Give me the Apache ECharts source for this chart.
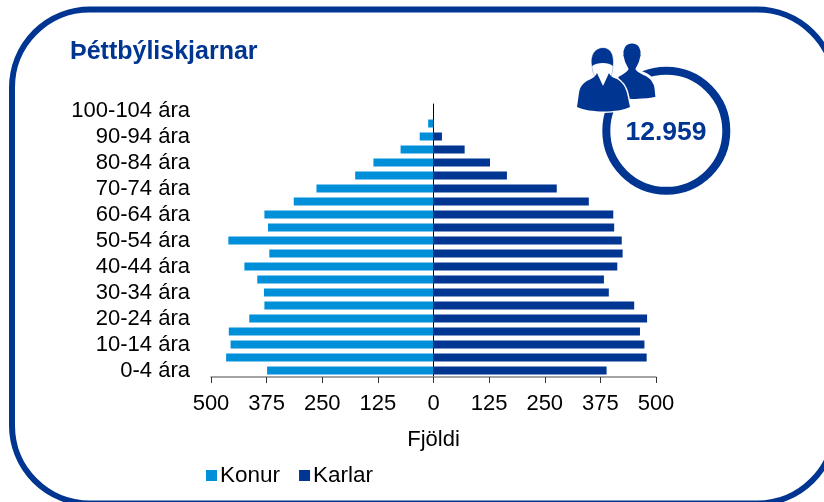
<!DOCTYPE html>
<html><head><meta charset="utf-8">
<style>html,body{margin:0;padding:0;background:#fff}#c{width:824px;height:502px}</style>
<script src="https://cdn.jsdelivr.net/npm/echarts@6/dist/echarts.min.js"></script>
</head><body><div id="c"></div>
<script>
const categories = ['0-4 ára','5-9 ára','10-14 ára','15-19 ára','20-24 ára','25-29 ára','30-34 ára','35-39 ára','40-44 ára','45-49 ára','50-54 ára','55-59 ára','60-64 ára','65-69 ára','70-74 ára','75-79 ára','80-84 ára','85-89 ára','90-94 ára','95-99 ára','100-104 ára'];
const women = [374,466,456,460,414,380,381,396,425,369,461,372,380,314,263,176,135,74,31,12,0];
const men = [389,479,474,464,480,451,394,383,413,425,423,406,404,349,277,165,127,70,19,0,0];
const xTicks = {min:-500,max:500,interval:125};
const titleText = 'Þéttbýliskjarnar';
const totalText = '12.959';
const BLUE = '#003591', LIGHT = '#0090da', FONT = '"Liberation Sans", Arial, sans-serif';
const chart = echarts.init(document.getElementById('c'), null, {renderer:'canvas'});
const backPerson = 'M632 42 C640 42 643 49 642 56 C641 62 639 66 637 69 C639 72 643 73 647 75 C652 78 655 82 656 88 L657 98 C645 101 625 101 617 99 L617 76 C621 74 625 72 627 69 C625 66 623 62 622 56 C621 49 624 42 632 42 Z';
const frontBody = 'M577 107 L579 93 C580 86 584 82 589 80 C593 78 596 76 597 73 L603 86 L609 73 C610 76 613 78 617 79 C622 82 625 86 627 93 L630 107 C618 113 590 113 577 107 Z';
const frontHair = 'M592 66 C590 54 596 48 603 48 C610 48 614 54 613 66 C609 62 597 62 592 66 Z';
const frontHalo = 'M592 64 C590 54 596 48 603 48 C610 48 614 54 613 64 C613 74 610 82 603 86 C596 82 592 74 592 64 Z';
echarts.graphic.registerShape('personBack', echarts.graphic.extendPath(backPerson, {}));
echarts.graphic.registerShape('personBody', echarts.graphic.extendPath(frontBody, {}));
echarts.graphic.registerShape('personHair', echarts.graphic.extendPath(frontHair, {}));
echarts.graphic.registerShape('personHalo', echarts.graphic.extendPath(frontHalo, {}));
chart.setOption({
  animation:false,
  textStyle:{fontFamily:FONT},
  grid:{left:211,right:168,top:104,bottom:125,containLabel:false,outerBoundsMode:'none'},
  legend:{left:201,top:459,itemWidth:11,itemHeight:11,itemGap:19,icon:'rect',
    textStyle:{fontSize:22.5,color:'#000',fontFamily:FONT,padding:[0,0,0,-2]},
    data:['Konur','Karlar']},
  xAxis:{type:'value',...xTicks,splitLine:{show:false},
    axisLine:{show:true,lineStyle:{color:'#868686',width:1.5}},
    axisTick:{show:true,length:6,lineStyle:{color:'#333',width:1}},
    axisLabel:{color:'#000',fontSize:22,fontFamily:FONT,margin:16,formatter:v=>String(Math.abs(v))},
    name:'Fjöldi',nameLocation:'middle',nameGap:52,
    nameTextStyle:{color:'#000',fontSize:22,fontFamily:FONT}},
  yAxis:[
    {type:'category',data:categories,position:'left',
      axisLine:{show:false,onZero:false},axisTick:{show:false},
      axisLabel:{interval:1,color:'#000',fontSize:22,fontFamily:FONT,margin:21}},
    {type:'category',data:categories,
      axisLine:{show:true,onZero:true,lineStyle:{color:'#000',width:1}},
      axisTick:{show:false},axisLabel:{show:false}}
  ],
  series:[
    {name:'Konur',type:'bar',stack:'p',barWidth:8,data:women.map(v=>-v),itemStyle:{color:LIGHT}},
    {name:'Karlar',type:'bar',stack:'p',barWidth:8,data:men,itemStyle:{color:BLUE}}
  ],
  graphic:[
    {type:'rect',z:0,silent:true,shape:{x:12,y:9.5,width:823,height:494,r:78},style:{fill:'none',stroke:BLUE,lineWidth:6}},
    {type:'text',z:10,style:{x:70,y:52,text:titleText,fill:BLUE,font:'bold 25px '+FONT,textVerticalAlign:'middle'}},
    {type:'circle',z:10,shape:{cx:666.3,cy:130.8,r:60},style:{fill:'#fff',stroke:BLUE,lineWidth:8}},
    {type:'text',z:11,style:{x:666,y:133,text:totalText,fill:BLUE,font:'bold 26.5px '+FONT,textAlign:'center',textVerticalAlign:'middle'}},
    {type:'personBack',z:12,style:{fill:BLUE,stroke:'#fff',lineWidth:3,lineJoin:'round'}},
    {type:'personBody',z:13,style:{fill:BLUE,stroke:'#fff',lineWidth:3,lineJoin:'round'}},
    {type:'personHalo',z:14,style:{fill:'#fff',stroke:'#fff',lineWidth:3,lineJoin:'round'}},
    {type:'personHalo',z:15,style:{fill:'none',stroke:'#a9b9d8',lineWidth:0.8}},
    {type:'personHair',z:15,style:{fill:BLUE}},
    {type:'personBody',z:15,style:{fill:BLUE}}
  ]
});
</script></body></html>
